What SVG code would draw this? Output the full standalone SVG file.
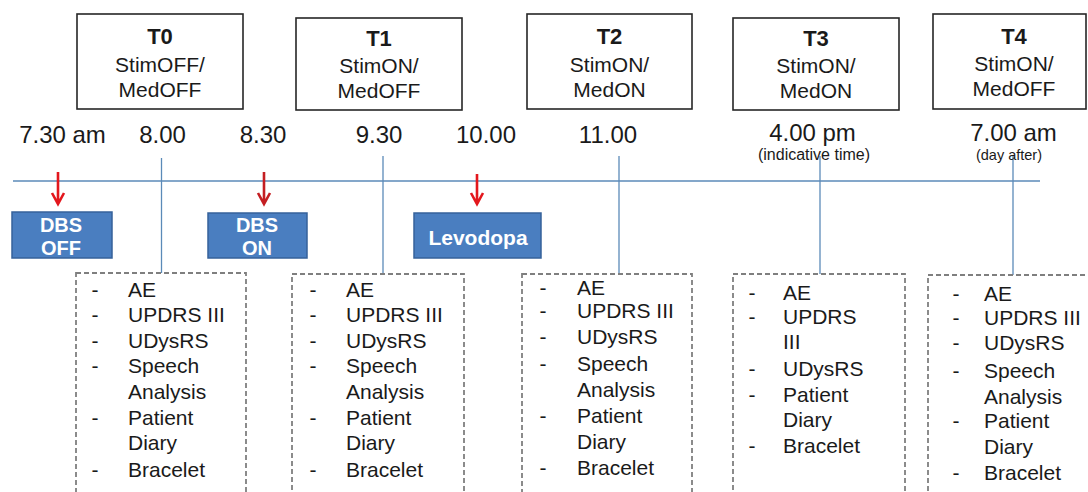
<svg xmlns="http://www.w3.org/2000/svg" width="1088" height="492" viewBox="0 0 1088 492">
<style>
  .hdr { fill: #ffffff; stroke: #262626; stroke-width: 1.6; }
  .t { font-family: "Liberation Sans", Arial, sans-serif; fill: #1a1a1a; }
  .tb { font-family: "Liberation Sans", Arial, sans-serif; font-weight: bold; fill: #1a1a1a; font-size: 22px; text-anchor: middle; }
  .ts { font-size: 21px; text-anchor: middle; }
  .time { font-size: 24px; text-anchor: middle; }
  .act { fill: #4a7ec0; stroke: #36629a; stroke-width: 1.5; }
  .actt { font-family: "Liberation Sans", Arial, sans-serif; font-weight: bold; fill: #ffffff; text-anchor: middle; }
  .list { fill: none; stroke: #7f7f7f; stroke-width: 1.8; stroke-dasharray: 5 3; }
  .li { font-size: 21px; }
  .dash { font-size: 21px; text-anchor: middle; }
  .axis { stroke: #5b8ab8; stroke-width: 1.6; fill: none; }
  .vl { stroke: #5b8ab8; stroke-width: 1.3; fill: none; }
  .ra { stroke: #e3171d; stroke-width: 2.6; fill: none; }
</style>

<g id="connectors">
  <line class="axis" x1="13" y1="181" x2="1040" y2="181"/>
  <line class="vl" x1="161.5" y1="158" x2="161.5" y2="273"/>
  <line class="vl" x1="383" y1="156" x2="383" y2="274"/>
  <line class="vl" x1="619" y1="156" x2="619" y2="274"/>
  <line class="vl" x1="820" y1="156" x2="820" y2="274"/>
  <line class="vl" x1="1013" y1="156" x2="1013" y2="275"/>
  <g class="ra">
    <path d="M58,172 V203 M52,193 L58,204 L64,193"/>
    <path d="M264,172 V203 M258,193 L264,204 L270,193" style="stroke:#c41e22"/>
    <path d="M477,174 V203 M471,193 L477,204 L483,193"/>
  </g>
</g>

<g id="T0">
  <rect class="hdr" x="77" y="14" width="166" height="95"/>
  <text class="tb" x="160" y="44">T0</text>
  <text class="t ts" x="160" y="72">StimOFF/</text>
  <text class="t ts" x="160" y="97">MedOFF</text>
</g>
<g id="T1">
  <rect class="hdr" x="296" y="18" width="166" height="92"/>
  <text class="tb" x="379" y="46">T1</text>
  <text class="t ts" x="379" y="73">StimON/</text>
  <text class="t ts" x="379" y="98">MedOFF</text>
</g>
<g id="T2">
  <rect class="hdr" x="527" y="14" width="165" height="95"/>
  <text class="tb" x="609.5" y="44">T2</text>
  <text class="t ts" x="609.5" y="72">StimON/</text>
  <text class="t ts" x="609.5" y="97">MedON</text>
</g>
<g id="T3">
  <rect class="hdr" x="733" y="18" width="166" height="92"/>
  <text class="tb" x="816" y="46">T3</text>
  <text class="t ts" x="816" y="73">StimON/</text>
  <text class="t ts" x="816" y="98">MedON</text>
</g>
<g id="T4">
  <rect class="hdr" x="933" y="14" width="153" height="95"/>
  <text class="tb" x="1014" y="44">T4</text>
  <text class="t ts" x="1014" y="71">StimON/</text>
  <text class="t ts" x="1014" y="96">MedOFF</text>
</g>

<g id="times">
  <text class="t time" x="62.5" y="143">7.30 am</text>
  <text class="t time" x="162.5" y="143">8.00</text>
  <text class="t time" x="263" y="143">8.30</text>
  <text class="t time" x="379" y="143">9.30</text>
  <text class="t time" x="486" y="143">10.00</text>
  <text class="t time" x="608" y="143">11.00</text>
  <text class="t time" x="812.5" y="141">4.00 pm</text>
  <text class="t" x="814" y="160" font-size="16" text-anchor="middle">(indicative time)</text>
  <text class="t time" x="1013.5" y="141">7.00 am</text>
  <text class="t" x="1009" y="160" font-size="14.5" text-anchor="middle">(day after)</text>
</g>

<g id="dbs-off">
  <rect class="act" x="12" y="212" width="100" height="46"/>
  <text class="actt" x="61" y="232" font-size="20">DBS</text>
  <text class="actt" x="61" y="255" font-size="20">OFF</text>
</g>
<g id="dbs-on">
  <rect class="act" x="208" y="213" width="99" height="45"/>
  <text class="actt" x="257" y="232" font-size="20">DBS</text>
  <text class="actt" x="257" y="255" font-size="20">ON</text>
</g>
<g id="levodopa">
  <rect class="act" x="414" y="213" width="127" height="45"/>
  <text class="actt" x="478" y="245" font-size="21">Levodopa</text>
</g>

<g id="list-T0">
  <rect class="list" x="76" y="273" width="170" height="240"/>
  <g class="t dash">
    <text x="95" y="297">-</text><text x="95" y="322">-</text><text x="95" y="348">-</text><text x="95" y="373">-</text><text x="95" y="425">-</text><text x="95" y="477">-</text>
  </g>
  <g class="t li">
    <text x="128" y="297">AE</text><text x="128" y="322">UPDRS III</text><text x="128" y="348">UDysRS</text><text x="128" y="373">Speech</text><text x="128" y="399">Analysis</text><text x="128" y="425">Patient</text><text x="128" y="450">Diary</text><text x="128" y="477">Bracelet</text>
  </g>
</g>
<g id="list-T1">
  <rect class="list" x="292" y="274" width="172" height="240"/>
  <g class="t dash">
    <text x="313" y="297">-</text><text x="313" y="322">-</text><text x="313" y="348">-</text><text x="313" y="373">-</text><text x="313" y="425">-</text><text x="313" y="477">-</text>
  </g>
  <g class="t li">
    <text x="346" y="297">AE</text><text x="346" y="322">UPDRS III</text><text x="346" y="348">UDysRS</text><text x="346" y="373">Speech</text><text x="346" y="399">Analysis</text><text x="346" y="425">Patient</text><text x="346" y="450">Diary</text><text x="346" y="477">Bracelet</text>
  </g>
</g>
<g id="list-T2">
  <rect class="list" x="522" y="274" width="170" height="240"/>
  <g class="t dash">
    <text x="543" y="295">-</text><text x="543" y="318">-</text><text x="543" y="344">-</text><text x="543" y="371">-</text><text x="543" y="423">-</text><text x="543" y="475">-</text>
  </g>
  <g class="t li">
    <text x="577" y="295">AE</text><text x="577" y="318">UPDRS III</text><text x="577" y="344">UDysRS</text><text x="577" y="371">Speech</text><text x="577" y="397">Analysis</text><text x="577" y="423">Patient</text><text x="577" y="449">Diary</text><text x="577" y="475">Bracelet</text>
  </g>
</g>
<g id="list-T3">
  <rect class="list" x="733" y="274" width="172" height="240"/>
  <g class="t dash">
    <text x="752" y="300">-</text><text x="752" y="324">-</text><text x="752" y="376">-</text><text x="752" y="402">-</text><text x="752" y="453">-</text>
  </g>
  <g class="t li">
    <text x="783" y="300">AE</text><text x="783" y="324">UPDRS</text><text x="783" y="349">III</text><text x="783" y="376">UDysRS</text><text x="783" y="402">Patient</text><text x="783" y="427">Diary</text><text x="783" y="453">Bracelet</text>
  </g>
</g>
<g id="list-T4">
  <rect class="list" x="928" y="275" width="172" height="240"/>
  <g class="t dash">
    <text x="956" y="301">-</text><text x="956" y="325">-</text><text x="956" y="350">-</text><text x="956" y="378">-</text><text x="956" y="428">-</text><text x="956" y="480">-</text>
  </g>
  <g class="t li">
    <text x="984" y="301">AE</text><text x="984" y="325">UPDRS III</text><text x="984" y="350">UDysRS</text><text x="984" y="378">Speech</text><text x="984" y="404">Analysis</text><text x="984" y="428">Patient</text><text x="984" y="454">Diary</text><text x="984" y="480">Bracelet</text>
  </g>
</g>
</svg>
